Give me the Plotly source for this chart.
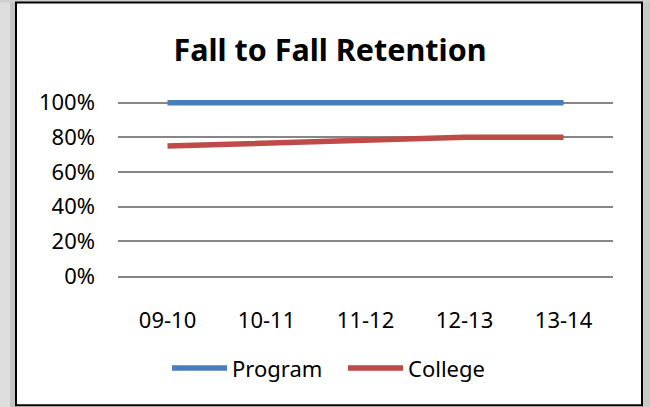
import plotly.graph_objects as go

categories = ["09-10", "10-11", "11-12", "12-13", "13-14"]
program = [1.00, 1.00, 1.00, 1.00, 1.00]
college = [0.75, 0.765, 0.78, 0.80, 0.80]
y_ticks = [0, 0.2, 0.4, 0.6, 0.8, 1.0]

W, H = 650, 407
PL, PR = 118, 613          # plot area left/right (px)
PB, P100 = 276, 103        # pixel y of 0% and 100%
YMAX = 1.05
px_per = (PB - P100) / 1.0
PT = PB - YMAX * px_per
ph = PB - PT
pw = PR - PL

def px2x(px):
    return (px - PL) / pw

def py2y(py):
    return (PB - py) / ph

FONT = "Noto Sans"

fig = go.Figure()
fig.add_trace(go.Scatter(x=categories, y=program, name="Program", mode="lines",
                         line=dict(color="#4A7EBB", width=5.5)))
fig.add_trace(go.Scatter(x=categories, y=college, name="College", mode="lines",
                         line=dict(color="#BE4B48", width=5.5)))

shapes = [
    dict(type="rect", xref="paper", yref="paper", x0=px2x(0), x1=px2x(16), y0=py2y(H), y1=py2y(0),
         fillcolor="#dedede", line=dict(width=0), layer="below"),
    dict(type="rect", xref="paper", yref="paper", x0=px2x(10), x1=px2x(16), y0=py2y(H), y1=py2y(0),
         fillcolor="#c4c4c4", line=dict(width=0), layer="below"),
    dict(type="rect", xref="paper", yref="paper", x0=px2x(642), x1=px2x(W), y0=py2y(H), y1=py2y(0),
         fillcolor="#c8c8c8", line=dict(width=0), layer="below"),
    dict(type="rect", xref="paper", yref="paper", x0=px2x(0), x1=px2x(W), y0=py2y(3), y1=py2y(0),
         fillcolor="#cfcfcf", line=dict(width=0), layer="below"),
    dict(type="rect", xref="paper", yref="paper", x0=px2x(16), x1=px2x(642), y0=py2y(405), y1=py2y(3),
         fillcolor="white", line=dict(color="black", width=2), layer="below"),
]

fig.update_layout(
    width=W, height=H,
    margin=dict(l=PL, r=W - PR, t=PT, b=H - PB, autoexpand=False),
    paper_bgcolor="#dedede",
    plot_bgcolor="rgba(0,0,0,0)",
    shapes=shapes,
    font=dict(family=FONT, size=22, color="black"),
    title=dict(text="<b>Fall to Fall Retention</b>", font=dict(family=FONT, size=30.5, color="black"),
               xref="paper", x=px2x(330), xanchor="center",
               yref="container", y=1 - 50 / H, yanchor="middle"),
    showlegend=True,
    legend=dict(orientation="h", xref="paper", x=px2x(343), xanchor="center",
                yref="paper", y=py2y(368), yanchor="middle",
                font=dict(family=FONT, size=22), bgcolor="rgba(0,0,0,0)",
                itemwidth=55, tracegroupgap=0, entrywidth=106, entrywidthmode="pixels"),
    xaxis=dict(type="category", range=[-0.5, len(categories) - 0.5], showgrid=False,
               showline=True, linecolor="#868686", linewidth=1.5,
               ticks="", ticklabelstandoff=24, tickfont=dict(family=FONT, size=22),
               fixedrange=True),
    yaxis=dict(range=[0, YMAX], tickvals=y_ticks, tickformat=".0%", showgrid=True,
               gridcolor="#868686", gridwidth=1.5, zeroline=False, showline=False,
               ticks="", ticklabelstandoff=22, tickfont=dict(family=FONT, size=22),
               fixedrange=True),
)

fig.write_html("out.html", config={"displayModeBar": False},
               post_script="document.body.style.margin='0';document.body.style.overflow='hidden';")
